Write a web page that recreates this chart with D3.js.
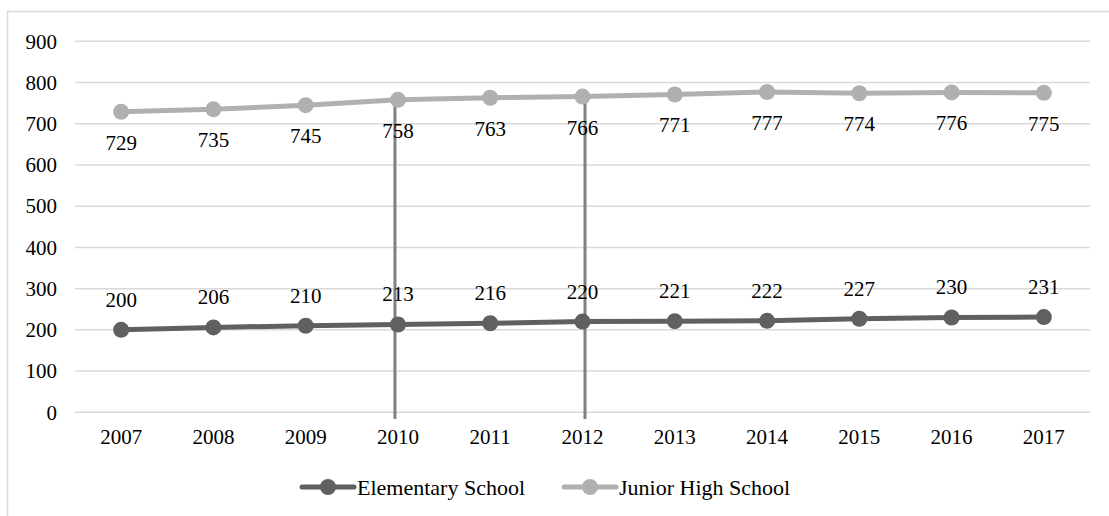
<!DOCTYPE html>
<html>
<head>
<meta charset="utf-8">
<script src="https://cdn.jsdelivr.net/npm/d3@7"></script>
<style>
  body { margin: 0; background: #fff; }
  svg text { font-family: "Liberation Serif", "Times New Roman", Times, "DejaVu Serif", serif; fill: #000; }
</style>
</head>
<body>
<svg width="1109" height="516"></svg>
<script>
// data
var years = ["2007", "2008", "2009", "2010", "2011", "2012", "2013", "2014", "2015", "2016", "2017"];
var elementary = [200, 206, 210, 213, 216, 220, 221, 222, 227, 230, 231];
var juniorHigh = [729, 735, 745, 758, 763, 766, 771, 777, 774, 776, 775];
var yTicks = [0, 100, 200, 300, 400, 500, 600, 700, 800, 900];
var markedYears = ["2010", "2012"];

var svg = d3.select("svg");
var fontSize = 21;

// outer frame
svg.append("rect")
  .attr("x", 7.5).attr("y", 11.5)
  .attr("width", 1120).attr("height", 520)
  .attr("fill", "none")
  .attr("stroke", "#d9d9d9")
  .attr("stroke-width", 1.5);

var x = d3.scaleBand()
  .domain(years)
  .range([75, 1090]);

var y = d3.scaleLinear()
  .domain([0, 900])
  .range([412.3, 41.3]);

var cx = function(d, i) { return x(years[i]) + x.bandwidth() / 2; };

// grid
svg.append("g")
  .selectAll("line")
  .data(yTicks)
  .enter().append("line")
    .attr("x1", 75).attr("x2", 1090)
    .attr("y1", function(d) { return y(d); })
    .attr("y2", function(d) { return y(d); })
    .attr("stroke", "#d9d9d9")
    .attr("stroke-width", 1.5);

// y axis
var yAxis = svg.append("g")
  .attr("transform", "translate(75,0)")
  .call(d3.axisLeft(y).tickValues(yTicks).tickSize(0).tickPadding(18));
yAxis.attr("font-family", null).attr("font-size", null);
yAxis.select(".domain").remove();
yAxis.selectAll("text").style("font-size", fontSize + "px");

// x axis
var xAxis = svg.append("g")
  .attr("transform", "translate(0," + y(0) + ")")
  .call(d3.axisBottom(x).tickSize(0).tickPadding(17));
xAxis.attr("font-family", null).attr("font-size", null);
xAxis.select(".domain").remove();
xAxis.selectAll("text").style("font-size", fontSize + "px");

// vertical marker lines (drawn slightly off the category centre, as in the original)
var markOffset = { "2010": -3, "2012": 2.5 };
svg.append("g")
  .selectAll("line")
  .data(markedYears)
  .enter().append("line")
    .attr("x1", function(d) { return x(d) + x.bandwidth() / 2 + markOffset[d]; })
    .attr("x2", function(d) { return x(d) + x.bandwidth() / 2 + markOffset[d]; })
    .attr("y1", 95)
    .attr("y2", 419)
    .attr("stroke", "#808080")
    .attr("stroke-width", 3);

var line = d3.line()
  .x(cx)
  .y(function(d) { return y(d); });

var series = [
  { name: "Elementary School", values: elementary, color: "#606060", dy: -23 },
  { name: "Junior High School", values: juniorHigh, color: "#b0b0b0", dy: 38 }
];

series.forEach(function(s) {
  svg.append("path")
    .datum(s.values)
    .attr("fill", "none")
    .attr("stroke", s.color)
    .attr("stroke-width", 5)
    .attr("d", line);

  svg.append("g")
    .selectAll("circle")
    .data(s.values)
    .enter().append("circle")
      .attr("cx", cx)
      .attr("cy", function(d) { return y(d); })
      .attr("r", 8)
      .attr("fill", s.color);
});

// labels drawn on top of the marker lines
series.forEach(function(s) {
  svg.append("g")
    .selectAll("text")
    .data(s.values)
    .enter().append("text")
      .attr("x", cx)
      .attr("y", function(d) { return y(d) + s.dy; })
      .attr("text-anchor", "middle")
      .style("font-size", fontSize + "px")
      .text(function(d) { return d; });
});

// legend
var legend = svg.append("g")
  .attr("transform", "translate(0,487)");

var legendItems = [
  { name: series[0].name, color: series[0].color, x: 302 },
  { name: series[1].name, color: series[1].color, x: 564 }
];

legendItems.forEach(function(l) {
  legend.append("line")
    .attr("x1", l.x).attr("x2", l.x + 52)
    .attr("y1", 0).attr("y2", 0)
    .attr("stroke", l.color)
    .attr("stroke-width", 5)
    .attr("stroke-linecap", "round");
  legend.append("circle")
    .attr("cx", l.x + 26).attr("cy", 0)
    .attr("r", 8)
    .attr("fill", l.color);
  legend.append("text")
    .attr("x", l.x + 55)
    .attr("y", 7.5)
    .style("font-size", "22px")
    .text(l.name);
});
</script>
</body>
</html>
